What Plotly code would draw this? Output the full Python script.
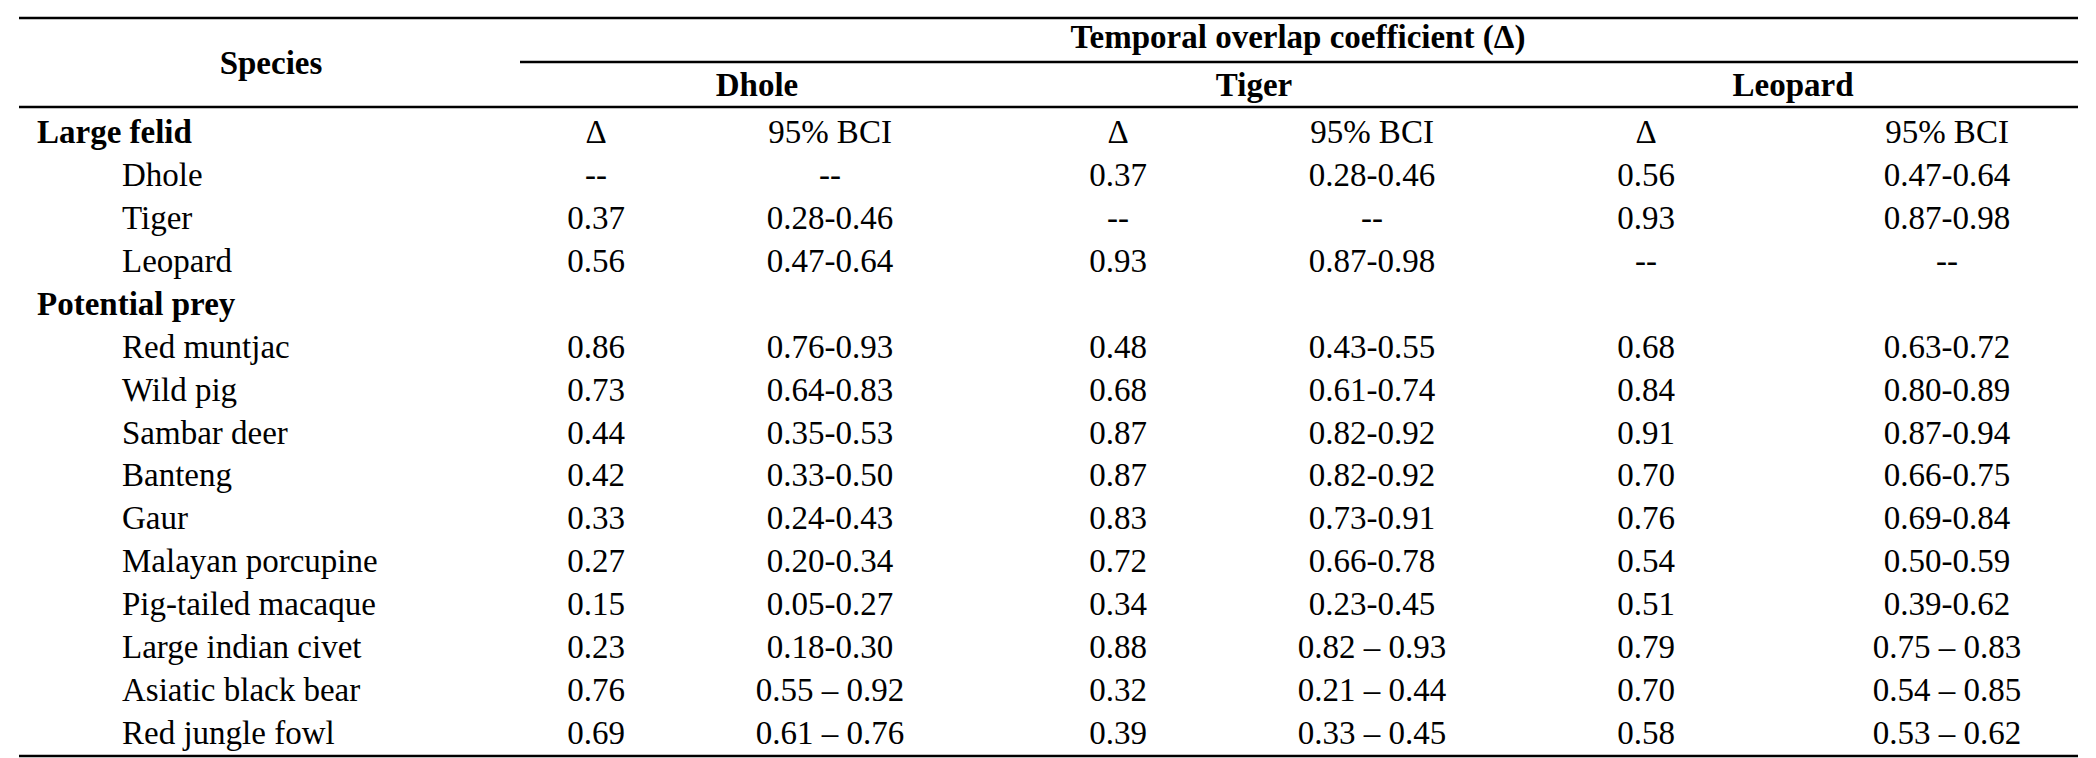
import plotly.graph_objects as go

species = ["<b>Large felid</b>", "Dhole", "Tiger", "Leopard", "<b>Potential prey</b>",
           "Red muntjac", "Wild pig", "Sambar deer", "Banteng", "Gaur", "Malayan porcupine",
           "Pig-tailed macaque", "Large indian civet", "Asiatic black bear", "Red jungle fowl"]
indent = [False, True, True, True, False] + [True] * 10

dhole_d = ["Δ", "--", "0.37", "0.56", "", "0.86", "0.73", "0.44", "0.42", "0.33", "0.27", "0.15", "0.23", "0.76", "0.69"]
dhole_ci = ["95% BCI", "--", "0.28-0.46", "0.47-0.64", "", "0.76-0.93", "0.64-0.83", "0.35-0.53", "0.33-0.50",
            "0.24-0.43", "0.20-0.34", "0.05-0.27", "0.18-0.30", "0.55 – 0.92", "0.61 – 0.76"]
tiger_d = ["Δ", "0.37", "--", "0.93", "", "0.48", "0.68", "0.87", "0.87", "0.83", "0.72", "0.34", "0.88", "0.32", "0.39"]
tiger_ci = ["95% BCI", "0.28-0.46", "--", "0.87-0.98", "", "0.43-0.55", "0.61-0.74", "0.82-0.92", "0.82-0.92",
            "0.73-0.91", "0.66-0.78", "0.23-0.45", "0.82 – 0.93", "0.21 – 0.44", "0.33 – 0.45"]
leo_d = ["Δ", "0.56", "0.93", "--", "", "0.68", "0.84", "0.91", "0.70", "0.76", "0.54", "0.51", "0.79", "0.70", "0.58"]
leo_ci = ["95% BCI", "0.47-0.64", "0.87-0.98", "--", "", "0.63-0.72", "0.80-0.89", "0.87-0.94", "0.66-0.75",
          "0.69-0.84", "0.50-0.59", "0.39-0.62", "0.75 – 0.83", "0.54 – 0.85", "0.53 – 0.62"]

groups = ["Dhole", "Tiger", "Leopard"]
title = "Temporal overlap coefficient (Δ)"

W, H = 2096, 758
FS = 33
font = dict(family="Liberation Serif, Times New Roman, serif", size=FS, color="black")
rows = [127 + 42.9 * i for i in range(len(species))]

fig = go.Figure()

# species labels
fig.add_trace(go.Scatter(x=[114 if ind else 29 for ind in indent], y=rows, text=species,
                         mode="text", textposition="middle right", textfont=font, hoverinfo="skip"))

cols = [(588, dhole_d), (822, dhole_ci), (1110, tiger_d), (1364, tiger_ci), (1638, leo_d), (1939, leo_ci)]
for cx, vals in cols:
    fig.add_trace(go.Scatter(x=[cx] * len(vals), y=rows, text=vals, mode="text",
                             textposition="middle center", textfont=font, hoverinfo="skip"))

# headers
fig.add_trace(go.Scatter(x=[263, 1290, 749, 1246, 1785], y=[58, 32, 80, 80, 80],
                         text=["<b>Species</b>", "<b>" + title + "</b>"] + ["<b>%s</b>" % g for g in groups],
                         mode="text", textposition="middle center", textfont=font, hoverinfo="skip"))

line = dict(color="black", width=2.5)
for x0, y in [(11, 10), (512, 54), (11, 99), (11, 748)]:
    fig.add_shape(type="line", x0=x0, x1=2070, y0=y, y1=y, line=line)

fig.update_layout(width=W, height=H, margin=dict(l=0, r=0, t=0, b=0),
                  paper_bgcolor="white", plot_bgcolor="white", showlegend=False,
                  xaxis=dict(range=[0, W], visible=False),
                  yaxis=dict(range=[H, 0], visible=False))

fig.write_html("out.html")
